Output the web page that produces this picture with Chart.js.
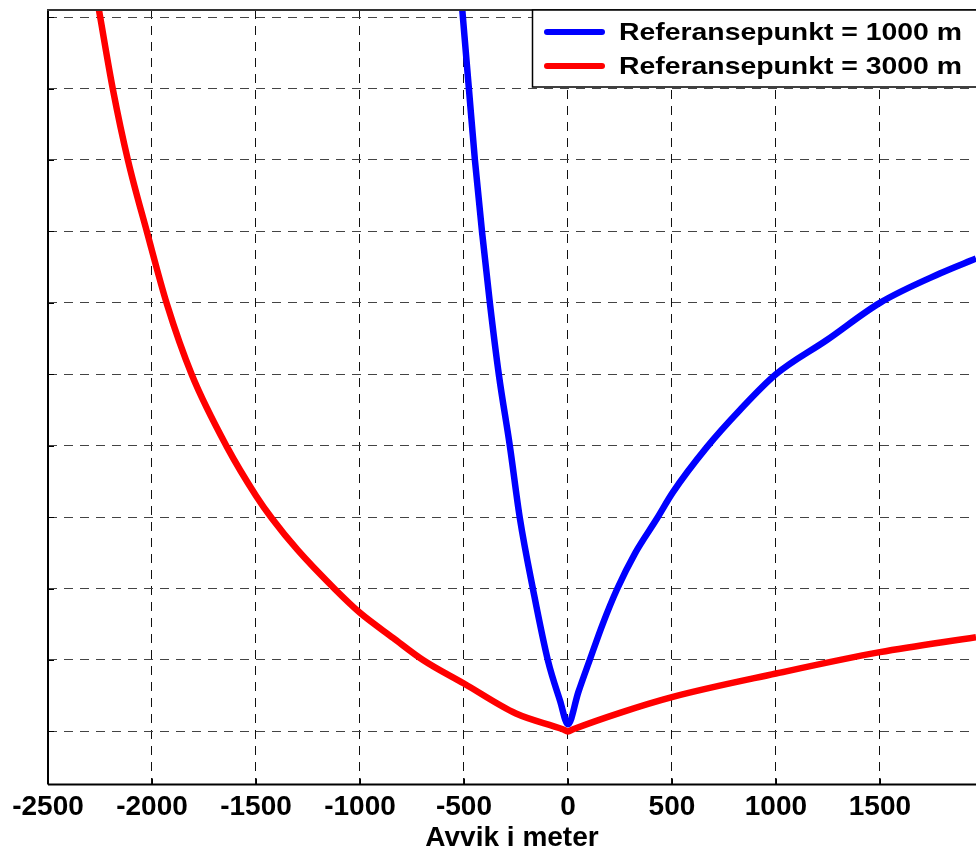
<!DOCTYPE html>
<html>
<head>
<meta charset="utf-8">
<script src="https://cdn.jsdelivr.net/npm/chart.js@4.4.1/dist/chart.umd.min.js"></script>
<style>
  html, body { margin: 0; padding: 0; background: #fff; overflow: hidden; }
  canvas { display: block; }
</style>
</head>
<body>
<canvas id="chart" width="976" height="852"></canvas>
<script>
// values; y is in grid steps (lowest gridline = 0)
const xTicks = [-2500, -2000, -1500, -1000, -500, 0, 500, 1000, 1500]
const yTicks = [0, 1, 2, 3, 4, 5, 6, 7, 8, 9, 10]

const blueX = [-508, -476, -447, -413, -375, -332, -279, -231, -168, -96, -38, 0, 50, 106, 168, 236, 322, 428, 505, 668, 827, 1000, 1245, 1500, 1788, 1962]
const blueY = [10.1, 8.99, 7.99, 6.99, 5.99, 4.99, 3.99, 2.98, 1.99, 0.99, 0.43, 0.1, 0.55, 1.01, 1.51, 1.99, 2.49, 2.98, 3.35, 3.98, 4.5, 5.0, 5.48, 6.0, 6.41, 6.62]

const redX = [-2255, -2188, -2115, -2024, -1928, -1808, -1639, -1500, -1423, -1300, -1120, -1000, -841, -697, -500, -250, -25, 0, 25, 250, 500, 1000, 1500, 1962]
const redY = [10.1, 8.99, 7.99, 6.99, 5.98, 4.99, 3.98, 3.3, 2.98, 2.54, 1.99, 1.66, 1.31, 1.0, 0.67, 0.25, 0.03, 0, 0.03, 0.26, 0.48, 0.81, 1.11, 1.32]

const seriesLabels = ["Referansepunkt = 1000 m", "Referansepunkt = 3000 m"]
const xTitle = "Avvik i meter"

const toPoints = (xs, ys) => xs.map((x, i) => ({x, y: ys[i]}))

const FONT = "'Liberation Sans', Arial, Helvetica, sans-serif"

// axis frame, inner tick marks, x title and the boxed legend
const framePlugin = {
  id: "frame",
  afterDraw(chart) {
    const {ctx, chartArea: a, scales: {x, y}} = chart
    ctx.save()

    ctx.strokeStyle = "#000"
    ctx.lineWidth = 1
    ctx.beginPath()
    yTicks.forEach(v => {
      const py = Math.round(y.getPixelForValue(v)) + 0.5
      ctx.moveTo(a.left, py)
      ctx.lineTo(a.left + 6, py)
    })
    xTicks.forEach(v => {
      const px = Math.round(x.getPixelForValue(v)) + 0.5
      ctx.moveTo(px, a.bottom)
      ctx.lineTo(px, a.bottom - 6)
    })
    ctx.stroke()

    ctx.lineWidth = 2
    ctx.strokeStyle = "#000"
    ctx.beginPath()
    ctx.moveTo(a.left, a.bottom)
    ctx.lineTo(a.right + 5, a.bottom)
    ctx.moveTo(a.left, a.bottom)
    ctx.lineTo(a.left, a.top)
    ctx.stroke()
    ctx.strokeStyle = "#333"
    ctx.beginPath()
    ctx.moveTo(a.left - 1, a.top)
    ctx.lineTo(a.right + 5, a.top)
    ctx.stroke()

    ctx.fillStyle = "#000"
    ctx.font = `bold 28px ${FONT}`
    ctx.textAlign = "center"
    ctx.textBaseline = "middle"
    ctx.fillText(xTitle, (a.left + a.right) / 2, a.bottom + 54)

    // legend box
    const bx = 532, by = a.top, bw = 460, bh = 77
    ctx.fillStyle = "#fff"
    ctx.fillRect(bx, by, bw, bh)
    ctx.strokeStyle = "#000"
    ctx.lineWidth = 1.5
    ctx.strokeRect(bx + 0.5, by, bw, bh)

    chart.data.datasets.forEach((ds, i) => {
      const ly = by + 22 + i * 34
      ctx.strokeStyle = ds.borderColor
      ctx.lineWidth = 6
      ctx.lineCap = "round"
      ctx.beginPath()
      ctx.moveTo(bx + 15, ly)
      ctx.lineTo(bx + 70, ly)
      ctx.stroke()

      ctx.fillStyle = "#000"
      ctx.font = `bold 24px ${FONT}`
      ctx.textAlign = "left"
      ctx.textBaseline = "middle"
      const w = ctx.measureText(ds.label).width
      ctx.save()
      ctx.translate(bx + 87, ly + 1)
      ctx.scale(343 / w, 1)
      ctx.fillText(ds.label, 0, 0)
      ctx.restore()
    })

    ctx.restore()
  }
}

new Chart(document.getElementById("chart"), {
  type: "line",
  data: {
    datasets: [
      {
        label: seriesLabels[0],
        data: toPoints(blueX, blueY),
        borderColor: "#0000ff",
        borderWidth: 6.5,
        pointRadius: 0,
        cubicInterpolationMode: "monotone",
        fill: false
      },
      {
        label: seriesLabels[1],
        data: toPoints(redX, redY),
        borderColor: "#ff0000",
        borderWidth: 6.5,
        pointRadius: 0,
        cubicInterpolationMode: "monotone",
        fill: false
      }
    ]
  },
  options: {
    responsive: false,
    animation: false,
    layout: {padding: {left: 48, top: 10, right: 0, bottom: 22}},
    plugins: {
      legend: {display: false},
      tooltip: {enabled: false}
    },
    scales: {
      x: {
        type: "linear",
        min: -2500,
        max: 1962,
        afterBuildTicks: scale => { scale.ticks = xTicks.map(value => ({value})) },
        ticks: {
          autoSkip: false,
          maxRotation: 0,
          padding: 6,
          color: "#000",
          font: {family: FONT, size: 28, weight: "bold"},
          callback: value => String(value)
        },
        grid: {color: "#111", lineWidth: 1, drawTicks: false},
        border: {display: false, dash: [9, 7]}
      },
      y: {
        type: "linear",
        min: -0.742,
        max: 10.1,
        afterBuildTicks: scale => { scale.ticks = yTicks.map(value => ({value})) },
        ticks: {display: false},
        grid: {color: "#444", lineWidth: 1, drawTicks: false},
        border: {display: false, dash: [9, 7]}
      }
    }
  },
  plugins: [framePlugin]
})
</script>
</body>
</html>
